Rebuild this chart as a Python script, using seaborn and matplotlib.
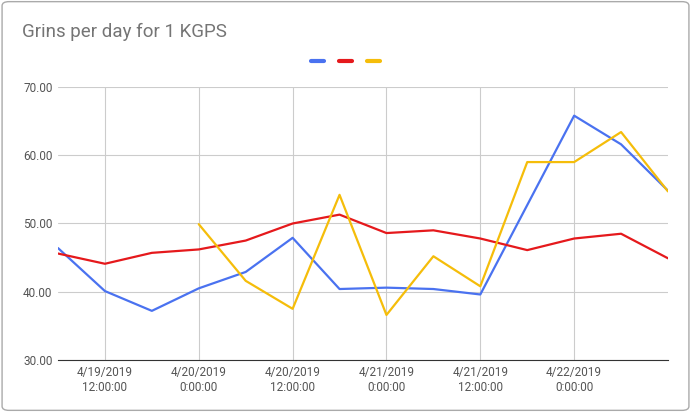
import matplotlib
matplotlib.use('Agg')
import matplotlib.pyplot as plt
from matplotlib.lines import Line2D
from matplotlib.patches import FancyBboxPatch
import numpy as np
import pandas as pd
import seaborn as sns

sns.set_style('white')
plt.rcParams['font.family'] = ['Roboto', 'DejaVu Sans']

times = pd.date_range('2019-04-19 06:00', '2019-04-22 12:00', freq='6h')
blue = [46.4, 40.1, 37.2, 40.5, 42.9, 47.9, 40.4, 40.6, 40.4, 39.6, 52.7, 65.8, 61.6, 54.8]
red = [45.6, 44.1, 45.7, 46.2, 47.5, 50.0, 51.3, 48.6, 49.0, 47.8, 46.1, 47.8, 48.5, 44.9]
yellow = [np.nan, np.nan, np.nan, 49.9, 41.6, 37.5, 54.2, 36.6, 45.2, 40.8, 59.0, 59.0, 63.4, 54.7]
colors = ['#4a72f0', '#e5191c', '#f5bd0a']

df = pd.DataFrame({'time': times, 'blue': blue, 'red': red, 'yellow': yellow})

fig = plt.figure(figsize=(6.91, 4.12), dpi=100)
ax = fig.add_axes([58/691, 1-360/412, 610/691, 273/412])
for col, c in zip(['blue', 'red', 'yellow'], colors):
    sns.lineplot(data=df, x='time', y=col, color=c, lw=1.6, ax=ax)

ax.set_ylim(30, 70)
ax.set_yticks([30, 40, 50, 60, 70])
ax.set_yticklabels([f'{v:.2f}' for v in [30, 40, 50, 60, 70]])
ax.set_xlim(times[0], times[-1])
ticks = pd.date_range('2019-04-19 12:00', '2019-04-22 00:00', freq='12h')
ax.set_xticks(ticks)
ax.set_xticklabels([f'{t.month}/{t.day}/{t.year}\n{t.hour}:00:00' for t in ticks])
ax.tick_params(labelsize=8.5, colors='#555555', length=0, pad=4)
ax.grid(True, color='#cccccc', lw=0.8)
ax.set_xlabel('')
ax.set_ylabel('')
for s in ['top', 'right', 'left']:
    ax.spines[s].set_visible(False)
ax.spines['bottom'].set_color('#333333')

fig.text(22/691, 1-32/412, 'Grins per day for 1 KGPS', fontsize=13.5, color='#757575', va='center')
handles = [Line2D([], [], color=c, lw=3) for c in colors]
fig.legend(handles, ['', '', ''], loc='center', bbox_to_anchor=(0.5, 1-62/412), ncol=3,
           frameon=False, handlelength=0.9, columnspacing=1.1, handletextpad=0)
fig.patches.append(FancyBboxPatch((0.003, 0.004), 0.994, 0.992, boxstyle='round,pad=0,rounding_size=0.01',
                                  transform=fig.transFigure, fill=False, ec='#aaaaaa', lw=1))
fig.savefig('out.png', dpi=100)
